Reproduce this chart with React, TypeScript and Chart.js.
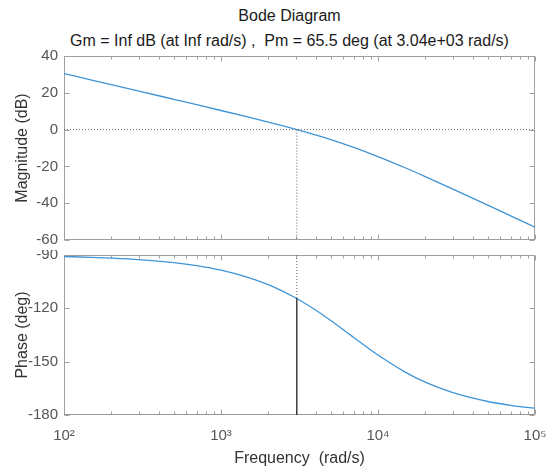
import React, { useEffect, useRef } from "react";
import { Chart, registerables } from "chart.js";

Chart.register(...registerables);

// ---------- data ----------
const frequency = [100, 150, 200, 300, 500, 700, 1000, 1500, 2000, 3000, 3040, 4000, 5000, 7000, 10000, 15000, 20000, 30000, 50000, 70000, 100000];
const magnitudeDb = [30.48, 26.95, 24.45, 20.93, 16.47, 13.53, 10.38, 6.74, 4.08, 0.14, 0.0, -2.9, -5.44, -9.65, -14.64, -20.86, -25.54, -32.33, -41.07, -46.88, -53.06];
const phaseDeg = [-90.86, -91.29, -91.72, -92.57, -94.29, -95.99, -98.53, -102.67, -106.69, -114.21, -114.5, -120.95, -126.86, -136.38, -146.29, -156.02, -161.56, -167.46, -172.4, -174.56, -176.18];
const crossoverFreq = 3040;
const crossoverPhase = -114.5;
const freqMin = 100;
const freqMax = 100000;
const freqTicks = [100, 1000, 10000, 100000];
const freqTickLabels = ["10²", "10³", "10⁴", "10⁵"];
const magTicks = [-60, -40, -20, 0, 20, 40];
const phaseTicks = [-180, -150, -120, -90];
const titleText = "Bode Diagram";
const subtitleText = "Gm = Inf dB (at Inf rad/s) ,  Pm = 65.5 deg (at 3.04e+03 rad/s)";

// ---------- styles ----------
const FONT = "'Liberation Sans', Arial, Helvetica, sans-serif";
const CURVE = "#3f94d6";
const AXIS = "#a0a0a0";
const TICKTXT = "#555555";
const LABELTXT = "#333333";
const DOTTED = "#666666";

const boxPlugin = {
  id: "matlabBox",
  beforeDatasetsDraw(chart: any) {
    const { ctx, chartArea: a, scales } = chart;
    const yTicks: number[] = chart.options.plugins.matlabBox.yTicks;
    ctx.save();
    ctx.strokeStyle = AXIS;
    ctx.lineWidth = 1;
    const L = Math.round(a.left) + 0.5;
    const R = Math.round(a.right) - 0.5;
    const T = Math.round(a.top) + 0.5;
    const B = Math.round(a.bottom) - 0.5;
    ctx.strokeRect(L, T, R - L, B - T);
    ctx.beginPath();
    for (let k = 2; k <= 5; k++) {
      for (let m = 1; m <= 9; m++) {
        const v = m * Math.pow(10, k);
        if (v < freqMin || v > freqMax) continue;
        const x = Math.round(scales.x.getPixelForValue(v)) + 0.5;
        const len = m === 1 ? 5 : 3;
        ctx.moveTo(x, T);
        ctx.lineTo(x, T + len);
        ctx.moveTo(x, B);
        ctx.lineTo(x, B - len);
      }
    }
    yTicks.forEach((v) => {
      const y = Math.round(scales.y.getPixelForValue(v)) + 0.5;
      ctx.moveTo(L, y);
      ctx.lineTo(L + 5, y);
      ctx.moveTo(R, y);
      ctx.lineTo(R - 5, y);
    });
    ctx.stroke();
    ctx.restore();
  },
};

function xy(xs: number[], ys: number[]) {
  return xs.map((x, i) => ({ x, y: ys[i] }));
}

function makeChart(canvas: HTMLCanvasElement, top: boolean): Chart {
  const datasets: any[] = [];
  if (top) {
    datasets.push(
      { data: [{ x: freqMin, y: 0 }, { x: freqMax, y: 0 }], borderColor: DOTTED, borderWidth: 1, borderDash: [1, 2], pointRadius: 0, tension: 0 },
      { data: [{ x: crossoverFreq, y: 0 }, { x: crossoverFreq, y: -60 }], borderColor: DOTTED, borderWidth: 1, borderDash: [1, 2], pointRadius: 0, tension: 0 },
      { data: xy(frequency, magnitudeDb), borderColor: CURVE, borderWidth: 1.3, pointRadius: 0, cubicInterpolationMode: "monotone" }
    );
  } else {
    datasets.push(
      { data: [{ x: freqMin, y: -180 }, { x: freqMax, y: -180 }], borderColor: DOTTED, borderWidth: 1, borderDash: [1, 2], pointRadius: 0, tension: 0 },
      { data: [{ x: crossoverFreq, y: -90 }, { x: crossoverFreq, y: crossoverPhase }], borderColor: DOTTED, borderWidth: 1, borderDash: [1, 2], pointRadius: 0, tension: 0 },
      { data: [{ x: crossoverFreq, y: -180 }, { x: crossoverFreq, y: crossoverPhase }], borderColor: "#222222", borderWidth: 1.3, pointRadius: 0, tension: 0 },
      { data: xy(frequency, phaseDeg), borderColor: CURVE, borderWidth: 1.3, pointRadius: 0, cubicInterpolationMode: "monotone" }
    );
  }
  const yTicks = top ? magTicks : phaseTicks;
  return new Chart(canvas, {
    type: "line",
    data: { datasets },
    plugins: [boxPlugin],
    options: {
      responsive: false,
      animation: false,
      devicePixelRatio: 1,
      layout: { padding: top ? { top: 56, bottom: 10, left: 0, right: 12 } : { top: 5, bottom: 0, left: 0, right: 12 } },
      plugins: {
        legend: { display: false },
        tooltip: { enabled: false },
        matlabBox: { yTicks },
      } as any,
      scales: {
        x: {
          type: "logarithmic",
          min: freqMin,
          max: freqMax,
          display: !top,
          grid: { display: false },
          border: { display: false },
          afterBuildTicks: (axis: any) => {
            axis.ticks = freqTicks.map((v) => ({ value: v }));
          },
          afterFit: (scale: any) => {
            scale.height = top ? 0 : 55;
            scale.paddingLeft = 0;
            scale.paddingRight = 0;
            scale.paddingTop = 0;
            scale.paddingBottom = 0;
          },
          ticks: {
            autoSkip: false,
            maxRotation: 0,
            padding: 4,
            color: TICKTXT,
            font: { family: FONT, size: 15 },
            callback: (v: any) => {
              const i = freqTicks.indexOf(Number(v));
              return i >= 0 ? freqTickLabels[i] : "";
            },
          },
          title: {
            display: !top,
            text: "Frequency  (rad/s)",
            color: LABELTXT,
            font: { family: FONT, size: 16 },
            padding: { top: 0, bottom: 2 },
          },
        },
        y: {
          type: "linear",
          min: top ? -60 : -180,
          max: top ? 40 : -90,
          grid: { display: false, drawTicks: false },
          border: { display: false },
          afterBuildTicks: (axis: any) => {
            axis.ticks = yTicks.map((v) => ({ value: v }));
          },
          afterFit: (scale: any) => {
            scale.width = 64;
            scale.paddingTop = 0;
            scale.paddingBottom = 0;
            scale.paddingLeft = 0;
            scale.paddingRight = 0;
          },
          ticks: {
            padding: 6,
            color: TICKTXT,
            font: { family: FONT, size: 15 },
          },
          title: {
            display: true,
            text: top ? "Magnitude (dB)" : "Phase (deg)",
            color: LABELTXT,
            font: { family: FONT, size: 16 },
            padding: { top: 13, bottom: 0 },
          },
        },
      },
    } as any,
  });
}

export default function App() {
  const topRef = useRef<HTMLCanvasElement>(null);
  const botRef = useRef<HTMLCanvasElement>(null);
  useEffect(() => {
    const c1 = makeChart(topRef.current!, true);
    const c2 = makeChart(botRef.current!, false);
    return () => {
      c1.destroy();
      c2.destroy();
    };
  }, []);
  const titleStyle: React.CSSProperties = {
    position: "absolute",
    left: 16,
    width: 547,
    textAlign: "center",
    fontFamily: FONT,
    fontSize: 16,
    lineHeight: "19px",
    color: "#1a1a1a",
    whiteSpace: "pre",
  };
  return (
    <div style={{ position: "absolute", left: 0, top: 0, width: 547, height: 470, background: "#ffffff", overflow: "hidden" }}>
      <div style={{ ...titleStyle, top: 5.5 }}>{titleText}</div>
      <div style={{ ...titleStyle, top: 30.5 }}>{subtitleText}</div>
      <canvas ref={topRef} width={547} height={250} style={{ position: "absolute", left: 0, top: 0, width: 547, height: 250 }} />
      <canvas ref={botRef} width={547} height={220} style={{ position: "absolute", left: 0, top: 250, width: 547, height: 220 }} />
    </div>
  );
}
